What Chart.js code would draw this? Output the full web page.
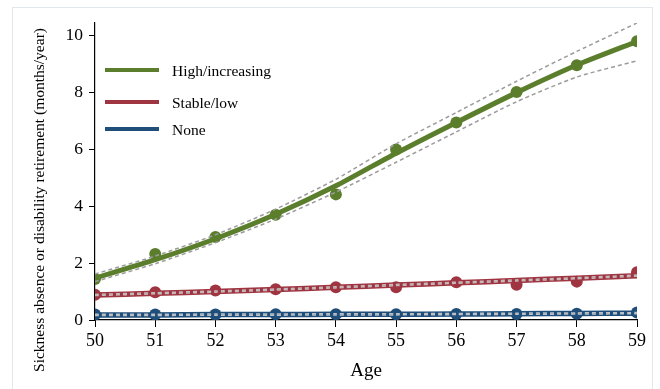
<!DOCTYPE html>
<html><head><meta charset="utf-8">
<script src="https://cdn.jsdelivr.net/npm/chart.js@4"></script>
<style>html,body{margin:0;padding:0;background:#fff}#wrap{width:660px;height:389px;position:relative}</style>
</head><body><div id="wrap"><canvas id="c" width="660" height="389"></canvas></div>
<script>
const ages = [50, 51, 52, 53, 54, 55, 56, 57, 58, 59];
const yTicks = [0, 2, 4, 6, 8, 10];
const seriesNames = ['High/increasing', 'Stable/low', 'None'];

const highObs   = [1.44, 2.32, 2.92, 3.70, 4.42, 6.00, 6.95, 8.02, 8.96, 9.81];
const highFit   = [1.47, 2.12, 2.86, 3.72, 4.72, 5.87, 6.95, 8.00, 8.97, 9.80];
const highUpper = [1.62, 2.25, 3.00, 3.90, 4.95, 6.20, 7.30, 8.40, 9.45, 10.45];
const highLower = [1.35, 1.98, 2.72, 3.55, 4.50, 5.55, 6.62, 7.68, 8.55, 9.12];

const stableObs   = [0.89, 0.98, 1.04, 1.08, 1.15, 1.15, 1.33, 1.24, 1.35, 1.68];
const stableFit   = [0.88, 0.94, 1.00, 1.07, 1.15, 1.23, 1.31, 1.39, 1.47, 1.56];
const stableUpper = [0.90, 0.96, 1.02, 1.09, 1.17, 1.25, 1.33, 1.41, 1.49, 1.58];
const stableLower = [0.86, 0.92, 0.98, 1.05, 1.13, 1.21, 1.29, 1.37, 1.45, 1.54];

const noneObs   = [0.19, 0.19, 0.19, 0.20, 0.20, 0.20, 0.21, 0.21, 0.22, 0.26];
const noneFit   = [0.18, 0.18, 0.19, 0.19, 0.20, 0.20, 0.21, 0.22, 0.23, 0.24];
const noneUpper = [0.20, 0.20, 0.21, 0.21, 0.22, 0.22, 0.23, 0.24, 0.25, 0.26];
const noneLower = [0.16, 0.16, 0.17, 0.17, 0.18, 0.18, 0.19, 0.20, 0.21, 0.22];

const FONT = '"Liberation Serif", "Times New Roman", serif';
const colors = ['#5b7e2c', '#a03542', '#1f4e7a'];
const ciColors = ['#9c9c9c', '#c4b8ba', '#b9c0c8'];

function pts(vals) { return ages.map((a, i) => ({ x: a, y: vals[i] })); }

const groups = [
  { obs: highObs, fit: highFit, up: highUpper, lo: highLower },
  { obs: stableObs, fit: stableFit, up: stableUpper, lo: stableLower },
  { obs: noneObs, fit: noneFit, up: noneUpper, lo: noneLower }
];

const datasets = [];
groups.forEach((g, i) => {
  const c = colors[i];
  const w = i === 0 ? 5 : 5.5;
  datasets.push({ label: seriesNames[i] + ' observed', data: pts(g.obs), showLine: false,
    pointRadius: 6, pointBackgroundColor: c, pointBorderColor: c, pointBorderWidth: 0, order: 3 });
  datasets.push({ label: seriesNames[i], data: pts(g.fit), borderColor: c, borderWidth: w,
    pointRadius: 0, tension: 0.2, order: 2 });
  datasets.push({ label: seriesNames[i] + ' upper', data: pts(g.up), borderColor: ciColors[i], borderWidth: 1.5,
    borderDash: [4, 3], pointRadius: 0, tension: 0.2, order: 1 });
  datasets.push({ label: seriesNames[i] + ' lower', data: pts(g.lo), borderColor: ciColors[i], borderWidth: 1.5,
    borderDash: [4, 3], pointRadius: 0, tension: 0.2, order: 1 });
});

const framePlugin = {
  id: 'frame',
  beforeDraw(chart) {
    const ctx = chart.ctx;
    ctx.save();
    ctx.strokeStyle = '#e2e7eb';
    ctx.lineWidth = 1;
    ctx.strokeRect(12.5, 7.5, 640, 400);
    ctx.restore();
  }
};

const extrasPlugin = {
  id: 'extras',
  afterDraw(chart) {
    const ctx = chart.ctx;
    ctx.save();
    ctx.translate(40, 200);
    ctx.rotate(-Math.PI / 2);
    ctx.fillStyle = '#000';
    ctx.font = '15.5px ' + FONT;
    ctx.textAlign = 'center';
    ctx.textBaseline = 'middle';
    ctx.fillText('Sickness absence or disability retirement (months/year)', 0, 0);
    ctx.restore();
    ctx.save();
    const ys = [70, 102, 129];
    seriesNames.forEach((n, i) => {
      ctx.strokeStyle = colors[i];
      ctx.lineWidth = 4;
      ctx.beginPath();
      ctx.moveTo(105, ys[i]);
      ctx.lineTo(159, ys[i]);
      ctx.stroke();
      ctx.fillStyle = '#000';
      ctx.font = '15.5px ' + FONT;
      ctx.textAlign = 'left';
      ctx.textBaseline = 'middle';
      ctx.fillText(n, 172, ys[i] + 2);
    });
    ctx.restore();
  }
};

new Chart(document.getElementById('c'), {
  type: 'line',
  data: { datasets },
  options: {
    responsive: false,
    animation: false,
    devicePixelRatio: 1,
    layout: { padding: { top: 23, right: 23, left: 0, bottom: 0 } },
    plugins: { legend: { display: false }, tooltip: { enabled: false } },
    scales: {
      x: {
        type: 'linear', min: 50, max: 59,
        ticks: { stepSize: 1, color: '#000', font: { family: FONT, size: 18 }, padding: 3 },
        grid: { drawOnChartArea: false, drawTicks: true, tickLength: 7, color: '#000', lineWidth: 1 },
        border: { display: true, color: '#000', width: 1.2 },
        title: { display: true, text: 'Age', color: '#000', font: { family: FONT, size: 19 }, padding: { top: 0, bottom: 7 } },
        afterFit(s) { s.height = 69; }
      },
      y: {
        type: 'linear', min: 0, max: 10.45,
        afterBuildTicks(s) { s.ticks = yTicks.map(v => ({ value: v })); },
        ticks: { color: '#000', font: { family: FONT, size: 17.5 }, padding: 6 },
        grid: { drawOnChartArea: false, drawTicks: true, tickLength: 6, color: '#000', lineWidth: 1 },
        border: { display: true, color: '#000', width: 1.2 },
        afterFit(s) { s.width = 95; }
      }
    }
  },
  plugins: [framePlugin, extrasPlugin]
});
</script>
</body></html>
